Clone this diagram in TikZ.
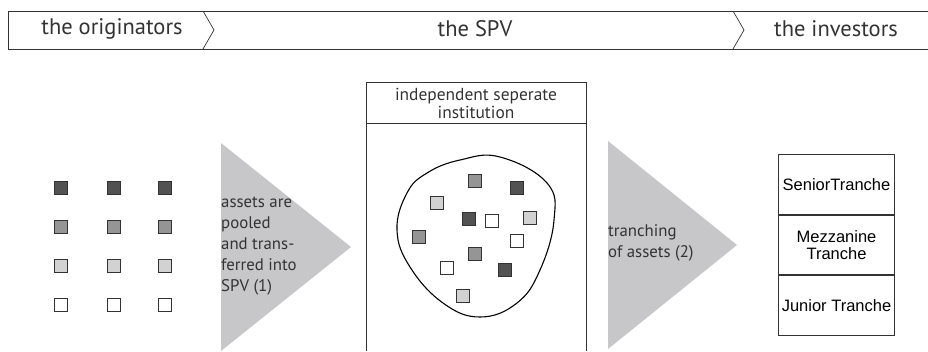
\documentclass[tikz,border=0pt]{standalone}
\usepackage{fontspec}
\setmainfont{PT Sans}
\newfontfamily\trancheFont{Liberation Sans}
\usetikzlibrary{positioning}

\definecolor{lineGray}{HTML}{333333}
\definecolor{assetDark}{HTML}{525252}
\definecolor{assetMid}{HTML}{959595}
\definecolor{assetLight}{HTML}{D2D2D2}
\definecolor{arrowGray}{HTML}{C7C7C9}

\tikzset{
    asset/.style={draw=lineGray, line width=1.2pt, minimum size=13pt, inner sep=0pt},
    tranche/.style={draw=lineGray, line width=0.9pt, minimum width=116pt, minimum height=59.5pt,
        inner sep=0pt, align=center, font=\trancheFont\fontsize{16.5}{17.5}\selectfont},
    bigLabel/.style={font=\fontsize{22.5}{26}\selectfont, text=lineGray},
    smallLabel/.style={font=\fontsize{16.8}{21}\selectfont, text=lineGray}
}

\begin{document}
\begin{tikzpicture}[x=1pt, y=-1pt]
    \useasboundingbox (0,0) rectangle (928,351);

    % top band
    \draw[lineGray, line width=0.9pt] (928,11) -- (8,11) -- (8,49) -- (928,49);
    \draw[lineGray, line width=0.7pt] (203,11) -- (214,30) -- (203,49);
    \draw[lineGray, line width=0.7pt] (733,11) -- (744,30) -- (733,49);
    \node[bigLabel] (orig) at (112,29) {the originators};
    \node[bigLabel] (spv) at (475,29) {the SPV};
    \node[bigLabel] (inv) at (836,29) {the investors};

    % assets of the originators
    \foreach \x [count=\i] in {61,114,165} {
        \node[asset, fill=assetDark]  (o1-\i) at (\x,188) {};
        \node[asset, fill=assetMid]   (o2-\i) at (\x,227) {};
        \node[asset, fill=assetLight] (o3-\i) at (\x,266) {};
        \node[asset, fill=white]      (o4-\i) at (\x,305) {};
    }

    % Arrows
    \fill[arrowGray] (221,143) -- (351,247) -- (221,351) -- cycle;
    \fill[arrowGray] (608,141) -- (737,245) -- (608,349) -- cycle;
    \node[smallLabel, anchor=west, align=left, inner sep=0pt] (pool) at (221,246)
        {assets are\\pooled\\and trans-\\ferred into\\SPV (1)};
    \node[smallLabel, anchor=west, align=left, inner sep=0pt] (tranching) at (608,243)
        {tranching\\of assets (2)};

    % the SPV
    \draw[lineGray, line width=0.9pt] (366,351) -- (366,82) -- (586,82) -- (586,351);
    \draw[lineGray, line width=0.9pt] (366,123) -- (586,123);
    \node[smallLabel, align=center, font=\fontsize{17.4}{18}\selectfont] (inst) at (476,103)
        {independent seperate\\institution};

    % pool of assets
    \draw[black, line width=1.1pt] plot[smooth cycle, tension=0.7] coordinates {
        (500,157) (547,183) (554,220) (540,270) (517,303) (480,317)
        (443,303) (410,267) (397,230) (407,193) (427,173) (460,160)};
    \node[asset, fill=assetMid]   (p1)  at (475,181) {};
    \node[asset, fill=assetDark]  (p2)  at (517,188) {};
    \node[asset, fill=assetLight] (p3)  at (437,203) {};
    \node[asset, fill=assetDark]  (p4)  at (469,219) {};
    \node[asset, fill=white]      (p5)  at (492,221) {};
    \node[asset, fill=assetLight] (p6)  at (530,218) {};
    \node[asset, fill=assetMid]   (p7)  at (419,237) {};
    \node[asset, fill=white]      (p8)  at (517,241) {};
    \node[asset, fill=assetMid]   (p9)  at (475,254) {};
    \node[asset, fill=white]      (p10) at (447,268) {};
    \node[asset, fill=assetDark]  (p11) at (505,270) {};
    \node[asset, fill=assetLight] (p12) at (463,296) {};

    % tranches
    \node[tranche] (senior) at (836.5,184.5) {SeniorTranche};
    \node[tranche, below=0pt of senior] (mezz) {Mezzanine\\Tranche};
    \node[tranche, below=0pt of mezz] (junior) {Junior Tranche};
\end{tikzpicture}
\end{document}
